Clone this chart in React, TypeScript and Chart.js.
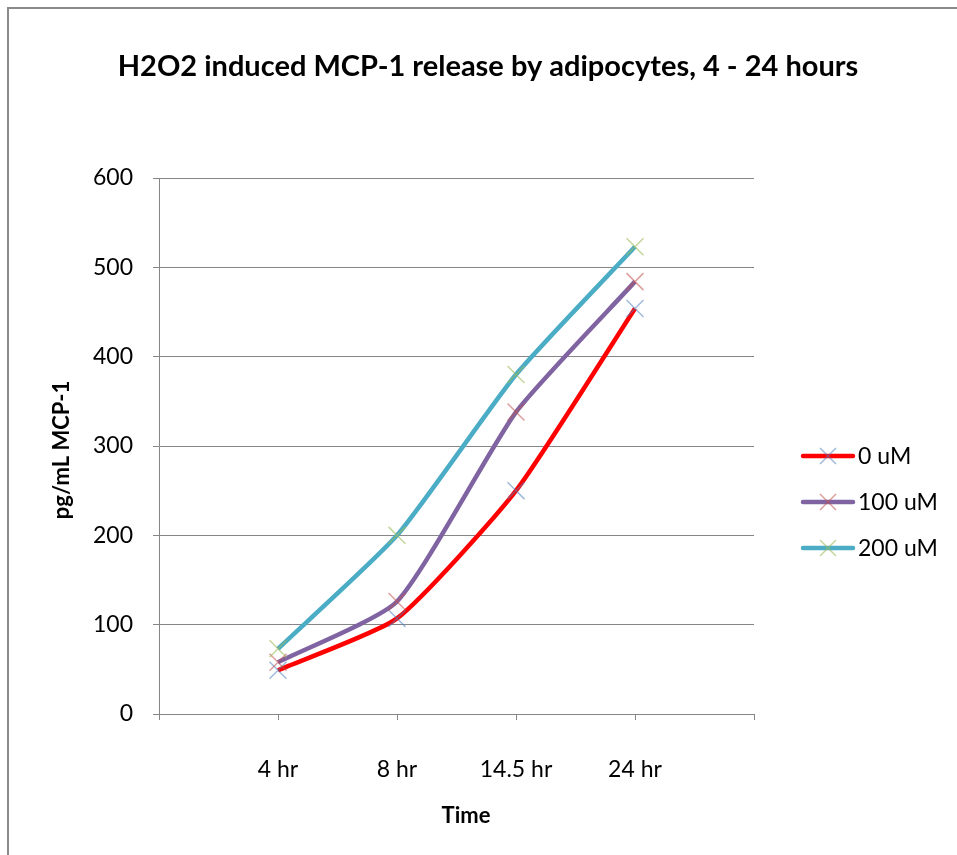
import React, { useEffect, useRef } from "react";
import { Chart, registerables } from "chart.js";

Chart.register(...registerables);

const categories = ["4 hr", "8 hr", "14.5 hr", "24 hr"];
const seriesNames = ["0 uM", "100 uM", "200 uM"];
const values0uM = [49, 107, 250, 454];
const values100uM = [58, 126, 338, 484];
const values200uM = [73, 200, 380, 523];
const yTicks = [0, 100, 200, 300, 400, 500, 600];

const titleText = "H2O2 induced MCP-1 release by adipocytes, 4 - 24 hours";
const yTitle = "pg/mL MCP-1";
const xTitle = "Time";

const lineColors = ["#FF0000", "#8064A2", "#4BACC6"];
const markerColors = [
  "rgba(79,129,189,0.55)",
  "rgba(192,80,77,0.55)",
  "rgba(155,187,89,0.6)",
];

const FONT = "Lato, 'Open Sans', sans-serif";

export default function App() {
  const ref = useRef<HTMLCanvasElement | null>(null);

  useEffect(() => {
    const canvas = ref.current;
    if (!canvas) return;
    const allValues = [values0uM, values100uM, values200uM];

    const overlay = {
      id: "overlay",
      afterDraw(chart: any) {
        const ctx = chart.ctx;
        ctx.save();
        // border
        ctx.strokeStyle = "#8a8a8a";
        ctx.lineWidth = 2;
        ctx.beginPath();
        ctx.moveTo(8, 860);
        ctx.lineTo(8, 8);
        ctx.lineTo(960, 8);
        ctx.stroke();
        // title
        ctx.fillStyle = "#000";
        ctx.textAlign = "center";
        ctx.textBaseline = "middle";
        ctx.font = `bold 29px ${FONT}`;
        ctx.fillText(titleText, 488, 67);
        // x title
        ctx.font = `bold 22px ${FONT}`;
        ctx.fillText(xTitle, 466, 816);
        // y title
        ctx.save();
        ctx.translate(62, 450);
        ctx.rotate(-Math.PI / 2);
        ctx.fillText(yTitle, 0, 0);
        ctx.restore();
        // legend
        const ys = [456, 502, 548];
        for (let i = 0; i < seriesNames.length; i++) {
          const y = ys[i];
          ctx.strokeStyle = lineColors[i];
          ctx.lineWidth = 4.5;
          ctx.lineCap = "round";
          ctx.beginPath();
          ctx.moveTo(803, y);
          ctx.lineTo(853, y);
          ctx.stroke();
          ctx.strokeStyle = markerColors[i];
          ctx.lineWidth = 1.5;
          ctx.lineCap = "butt";
          const r = 8;
          ctx.beginPath();
          ctx.moveTo(828 - r, y - r);
          ctx.lineTo(828 + r, y + r);
          ctx.moveTo(828 - r, y + r);
          ctx.lineTo(828 + r, y - r);
          ctx.stroke();
          ctx.fillStyle = "#000";
          ctx.textAlign = "left";
          ctx.font = `23px ${FONT}`;
          ctx.fillText(seriesNames[i], 858, y + 1);
        }
        ctx.restore();
      },
    };

    const chart = new Chart(canvas, {
      type: "line",
      data: {
        datasets: seriesNames.map((name, i) => ({
          label: name,
          data: allValues[i].map((v, j) => ({ x: j + 1, y: v })),
          borderColor: lineColors[i],
          backgroundColor: lineColors[i],
          borderWidth: 4.5,
          tension: 0.18,
          pointStyle: "crossRot",
          pointRadius: 12,
          pointBorderWidth: 1.5,
          pointBorderColor: markerColors[i],
          pointBackgroundColor: markerColors[i],
          order: 3 - i,
          fill: false,
        })),
      },
      options: {
        animation: false,
        responsive: false,
        devicePixelRatio: 1,
        layout: { padding: { left: 0, top: 178, right: 203, bottom: 0 } },
        plugins: {
          legend: { display: false },
          title: { display: false },
          tooltip: { enabled: false },
        },
        scales: {
          x: {
            type: "linear",
            min: 0,
            max: 5,
            afterFit: (s: any) => {
              s.height = 141;
            },
            afterBuildTicks: (s: any) => {
              s.ticks = [0, 1, 2, 3, 4, 5].map((v) => ({ value: v }));
            },
            ticks: {
              callback: (v: any) => categories[Number(v) - 1] ?? "",
              autoSkip: false,
              maxRotation: 0,
              padding: 36,
              color: "#000",
              font: { family: FONT, size: 23 },
            },
            grid: {
              drawOnChartArea: false,
              drawTicks: true,
              tickLength: 6,
              color: "#868686",
            },
            border: { color: "#868686", width: 1 },
          },
          y: {
            type: "linear",
            min: 0,
            max: 600,
            afterFit: (s: any) => {
              s.width = 159;
            },
            afterBuildTicks: (s: any) => {
              s.ticks = yTicks.map((v) => ({ value: v }));
            },
            ticks: {
              padding: 20,
              color: "#000",
              font: { family: FONT, size: 23 },
            },
            grid: {
              color: "#868686",
              drawTicks: true,
              tickLength: 6,
            },
            border: { color: "#868686", width: 1 },
          },
        },
      },
      plugins: [overlay],
    });
    return () => chart.destroy();
  }, []);

  return (
    <div
      style={{
        position: "fixed",
        left: 0,
        top: 0,
        width: 957,
        height: 855,
        overflow: "hidden",
        background: "#fff",
      }}
    >
      <canvas ref={ref} width={957} height={855} style={{ display: "block" }} />
    </div>
  );
}
